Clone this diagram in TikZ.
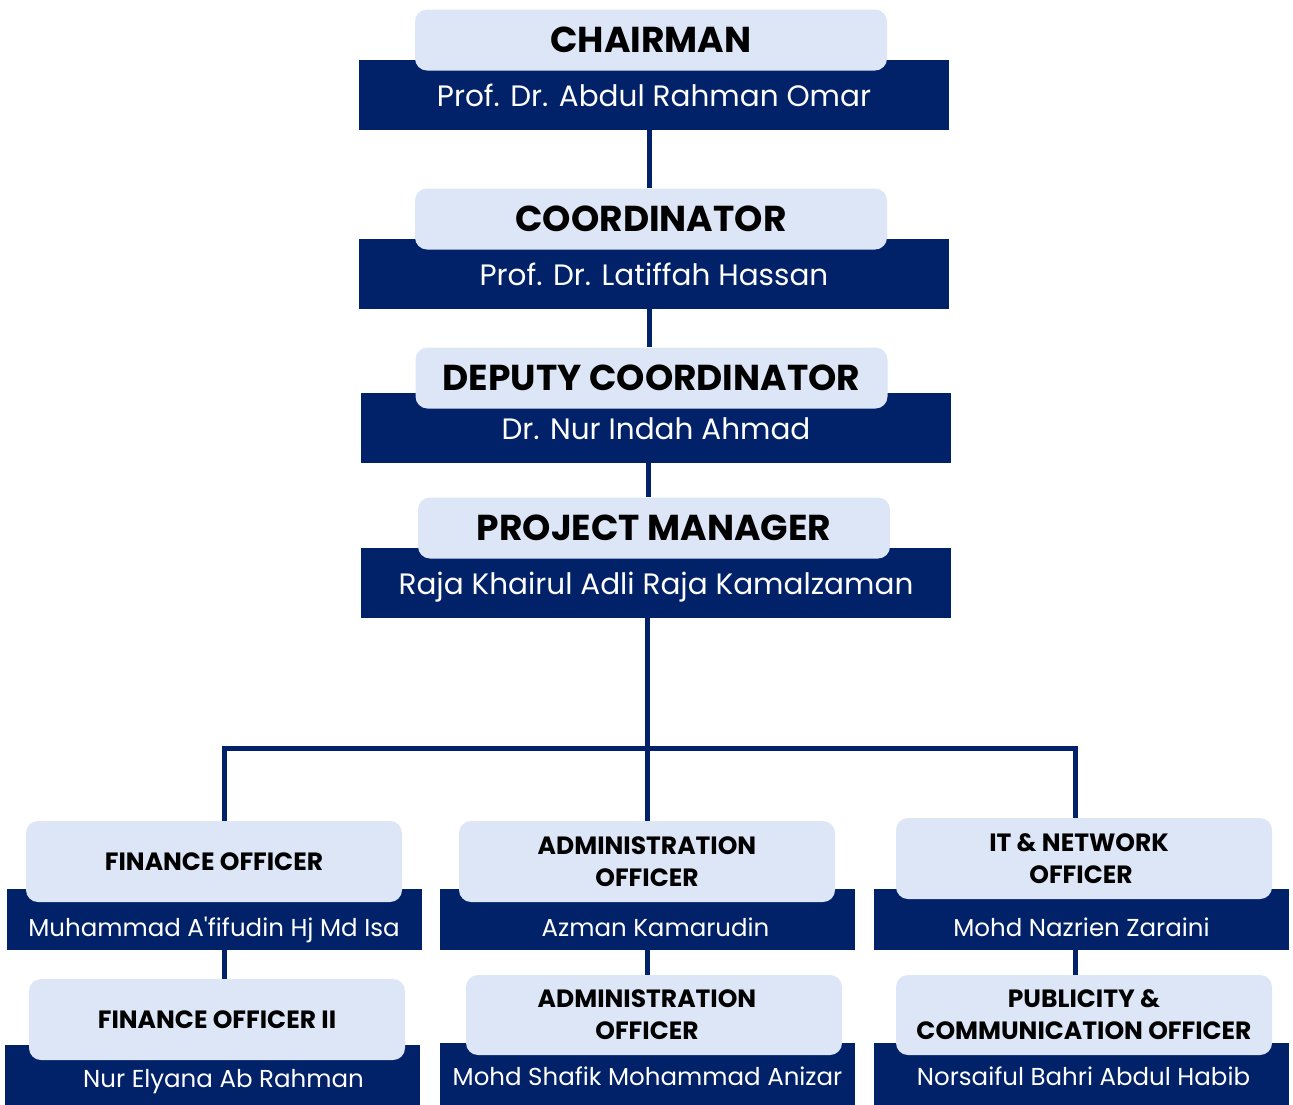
\documentclass[tikz,border=0pt]{standalone}
\usepackage{fontspec}
\setmainfont{Poppins}
\usepackage{xcolor}
\usetikzlibrary{positioning, calc}
\definecolor{onavy}{HTML}{012169}
\definecolor{olight}{HTML}{DCE6F7}
\tikzset{
  namebar/.style={fill=onavy, text=white, inner sep=0pt},
  rolebox/.style={fill=olight, text=black, rounded corners=12pt,
                  inner sep=0pt, align=center},
  link/.style={draw=onavy, line width=5pt},
}

\begin{document}
\begin{tikzpicture}[x=1pt, y=-1pt,
  topbar/.style={namebar, minimum width=590pt, minimum height=70pt,
                 font=\fontsize{29.5}{34}\selectfont, text height=23pt, text depth=0pt},
  toprole/.style={rolebox, minimum width=472pt, minimum height=61pt,
                  font=\fontsize{36}{40}\selectfont\bfseries},
  lowbar/.style={namebar, minimum width=415pt, minimum height=61pt,
                 font=\fontsize{24.5}{28}\selectfont, text height=38pt, text depth=4pt},
  lastbar/.style={lowbar, minimum height=64pt, text height=21pt, text depth=0pt},
  lowrole/.style={rolebox, minimum width=376pt, minimum height=81pt,
                  font=\fontsize{25}{32}\selectfont\bfseries}]
  \useasboundingbox (0,0) rectangle (1293,1104);
  \node[topbar] (chair) at (654,95) {Prof. Dr. Abdul Rahman Omar};
  \node[toprole] (chairrole) at (651,40) {CHAIRMAN};
  \node[topbar] (coord) at (654,274) {Prof. Dr. Latiffah Hassan};
  \node[toprole] (coordrole) at (651,219) {COORDINATOR};
  \node[topbar] (deputy) at (656,428) {Dr. Nur Indah Ahmad};
  \node[toprole] (deputyrole) at (651.5,378) {DEPUTY COORDINATOR};
  \node[topbar] (pm) at (656,583) {Raja Khairul Adli Raja Kamalzaman};
  \node[toprole] (pmrole) at (654,528) {PROJECT MANAGER};

  \node[lowbar] (fin) at (214,919.5) {Muhammad A\textquotesingle fifudin Hj Md Isa};
  \node[lowrole] (finrole) at (214,861.5) {FINANCE OFFICER};
  \node[lastbar] (fin2) at (212.5,1077) {\hspace*{22pt}Nur Elyana Ab Rahman};
  \node[lowrole] (fin2role) at (217,1019.5) {FINANCE OFFICER II};
  \node[lowbar] (admin) at (647.5,919.5) {\hspace*{16pt}Azman Kamarudin};
  \node[lowrole] (adminrole) at (647,861.5) {ADMINISTRATION\\OFFICER};
  \node[lastbar] (admin2) at (647.5,1075) {Mohd Shafik Mohammad Anizar};
  \node[lowrole, minimum height=80pt] (admin2role) at (654,1015)
    {ADMINISTRATION\hspace*{14pt}\\OFFICER\hspace*{14pt}};
  \node[lowbar] (it) at (1081.5,919.5) {Mohd Nazrien Zaraini};
  \node[lowrole] (itrole) at (1084,858.5) {IT \& NETWORK\hspace*{10pt}\\OFFICER\hspace*{6pt}};
  \node[lastbar] (pub) at (1081.5,1075) {\hspace*{4pt}Norsaiful Bahri Abdul Habib};
  \node[lowrole, minimum height=80pt] (pubrole) at (1084,1015) {PUBLICITY \&\\COMMUNICATION OFFICER};

  \coordinate (hub) at (647,748);
  \coordinate (lefthub) at (224,748);
  \coordinate (righthub) at (1075,748);
  \draw[link] (chair.south -| 649,0) -- (coordrole.north -| 649,0);
  \draw[link] (coord.south -| 649,0) -- (deputyrole.north -| 649,0);
  \draw[link] (deputy.south -| 648,0) -- (pmrole.north -| 648,0);
  \draw[link] (hub |- pm.south) -- (hub |- adminrole.north);
  \draw[link] (lefthub |- finrole.north) -- (lefthub) -- (righthub) -- (righthub |- itrole.north);
  \draw[link] (lefthub |- fin.south) -- (lefthub |- fin2role.north);
  \draw[link] (hub |- admin.south) -- (hub |- admin2role.north);
  \draw[link] (righthub |- it.south) -- (righthub |- pubrole.north);
\end{tikzpicture}
\end{document}
